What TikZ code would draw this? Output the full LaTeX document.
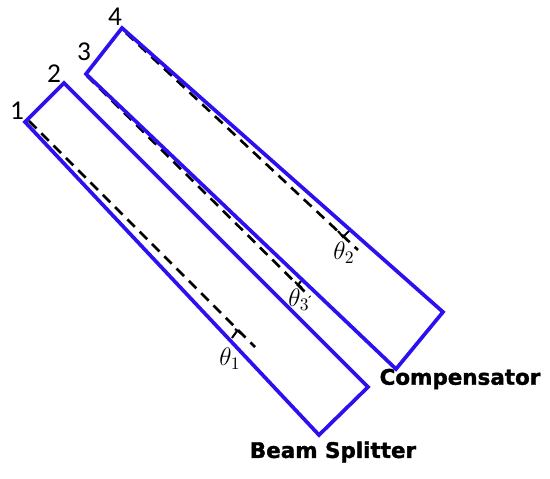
\documentclass[tikz,border=0pt]{standalone}
\usepackage{amsmath,amssymb}
\usepackage{fontspec}
\setmainfont{Carlito}
\newfontfamily\labelfont[FakeBold=1.5]{DejaVu Sans Bold}
\usetikzlibrary{positioning,calc}
\definecolor{platecolor}{RGB}{44,16,240}
\tikzset{
	plate/.style={draw=platecolor,line width=2.1pt,line join=miter},
	normal/.style={dash pattern=on 6pt off 3.9pt,line width=1.5pt},
	anglemark/.style={line width=1.2pt},
	cornerlabel/.style={font=\fontsize{15.5}{15.5}\selectfont},
	anglelabel/.style={font=\fontsize{14}{14}\selectfont},
	platelabel/.style={font=\labelfont\fontsize{12.2}{12.2}\selectfont}
}
\begin{document}
\begin{tikzpicture}[x=0.02cm,y=-0.02cm]
			\useasboundingbox (0,0) rectangle (550,479);
			% corners of the two plates
			\coordinate (c1) at (25,122);
			\coordinate (c2) at (64,83);
			\coordinate (c3) at (86,74);
			\coordinate (c4) at (122,28);
			\coordinate (b1) at (319,435);
			\coordinate (b2) at (368,387);
			\coordinate (k1) at (396,369);
			\coordinate (k2) at (443,312);
			\node[cornerlabel] (n1) at (17,111) {1};
			\node[cornerlabel] (n2) at (54,74) {2};
			\node[cornerlabel] (n3) at (84,52) {3};
			\node[cornerlabel] (n4) at (115,17) {4};

			\begin{scope}[normal]
			\draw (29,121)--(255,347);
			\draw (87,76)--(310,297);
			\draw (126,33)--(358,250);
			\end{scope}

			\begin{scope}[anglemark]
			\draw (232,338)--(237,331);
			\draw (235,329)--(242,334);
			\draw (301,281)--(298,285);
			\draw (295,282)--(302,288);
			\draw (350,230)--(343,237)--(338,231);
			\end{scope}

			\draw[plate] (c1)--(c2)--(b2)--(b1)--cycle;
			\draw[plate] (c3)--(c4)--(k2)--(k1)--cycle;

			\node[anglelabel] (t1) at (230,359) {$\theta_1$};
			\node[anglelabel] (t2) at (344,253) {$\theta_2$};
			\node[anglelabel] (t3) at (299,300) {$\theta_3$};
			\node[platelabel] (split) at (333,452) {Beam Splitter};
			\node[platelabel] (comp) at (460,379) {Compensator};
\end{tikzpicture}
\end{document}
